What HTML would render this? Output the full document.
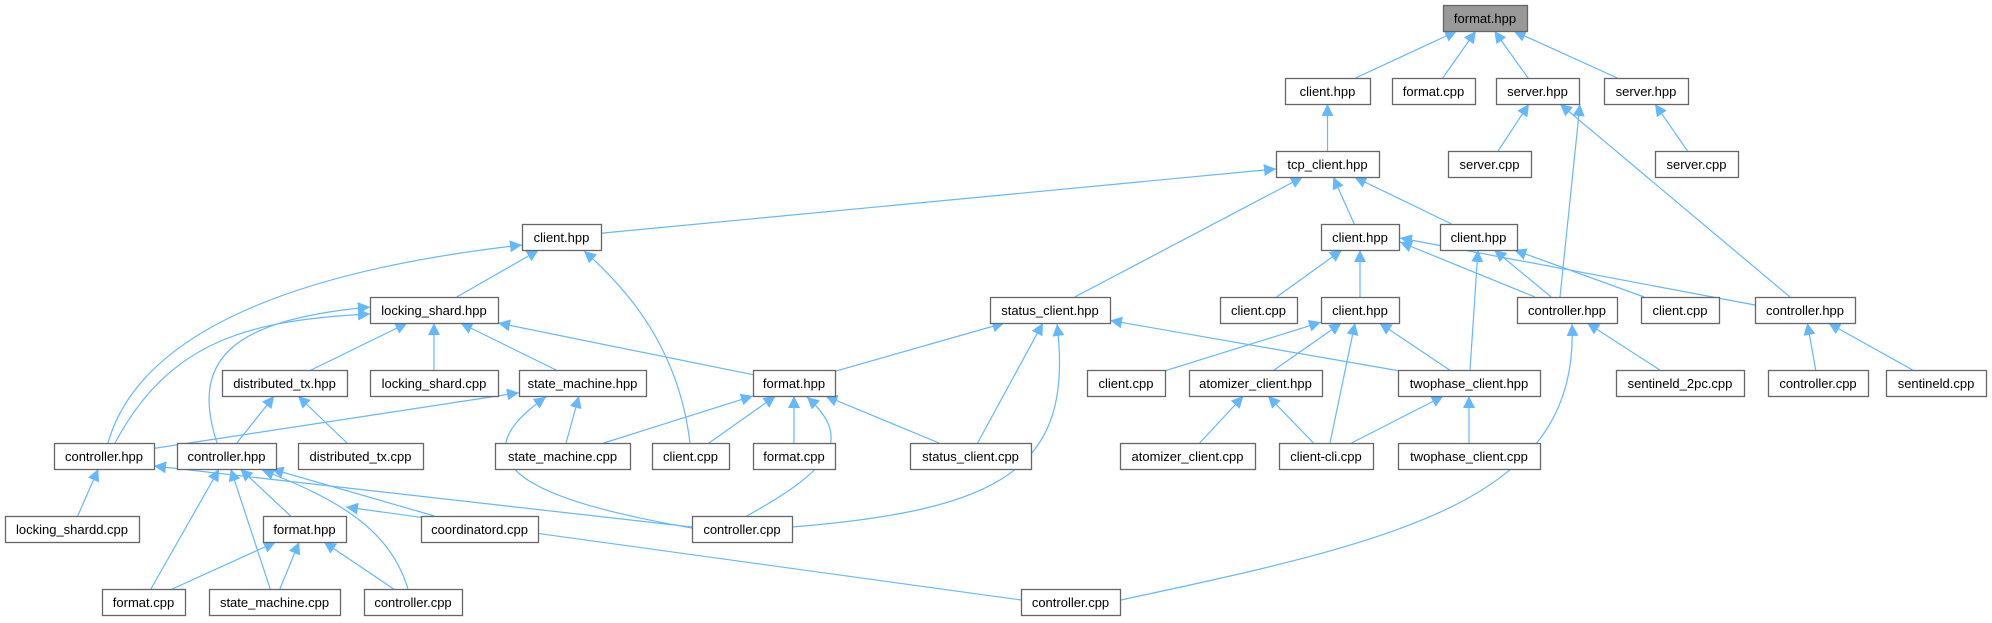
<!DOCTYPE html>
<html><head><meta charset="utf-8"><style>
html,body{margin:0;padding:0;background:#fff;}
svg{display:block;}
text{font-family:"Liberation Sans",Arial,sans-serif;font-size:13px;fill:#000;}
</style></head><body>
<svg id="g" width="1992" height="623" xmlns="http://www.w3.org/2000/svg">
<defs><marker id="a" markerUnits="userSpaceOnUse" markerWidth="14" markerHeight="12" refX="12" refY="6" orient="auto"><path d="M0,0 L12,6 L0,12 z" fill="#63b8ff"/></marker></defs>
<g id="E"></g><g id="N"></g>
</svg>
<script>
var T=function(r){return 5+73*r;},H=26;
var n={
fh:[1443,1527,0,"format.hpp",1],
c1:[1285,1370,1,"client.hpp"],fc1:[1392,1475,1,"format.cpp"],sA:[1496,1579,1,"server.hpp"],sB:[1604,1688,1,"server.hpp"],
tcp:[1276,1379,2,"tcp_client.hpp"],scA:[1448,1531,2,"server.cpp"],scB:[1655,1738,2,"server.cpp"],
cL:[522,601,3,"client.hpp"],c3a:[1321,1399,3,"client.hpp"],c3b:[1440,1517,3,"client.hpp"],
ls:[370,498,4,"locking_shard.hpp"],sch:[990,1110,4,"status_client.hpp"],cc4:[1220,1297,4,"client.cpp"],c4:[1321,1399,4,"client.hpp"],chA:[1517,1617,4,"controller.hpp"],cc4b:[1641,1719,4,"client.cpp"],chB:[1755,1855,4,"controller.hpp"],
dth:[222,347,5,"distributed_tx.hpp"],lsc:[370,498,5,"locking_shard.cpp"],smh:[519,646,5,"state_machine.hpp"],fh5:[753,835,5,"format.hpp"],cc5:[1087,1165,5,"client.cpp"],ach:[1189,1322,5,"atomizer_client.hpp"],tph:[1398,1540,5,"twophase_client.hpp"],s2:[1616,1744,5,"sentineld_2pc.cpp"],cpB:[1768,1868,5,"controller.cpp"],sd:[1886,1986,5,"sentineld.cpp"],
ch6a:[54,154,6,"controller.hpp"],ch6b:[177,276,6,"controller.hpp"],dtc:[298,423,6,"distributed_tx.cpp"],smc6:[495,630,6,"state_machine.cpp"],cc6:[652,729,6,"client.cpp"],fc6:[753,835,6,"format.cpp"],scc:[910,1031,6,"status_client.cpp"],acc:[1120,1255,6,"atomizer_client.cpp"],cli:[1279,1373,6,"client-cli.cpp"],tpc:[1398,1540,6,"twophase_client.cpp"],
lsd:[5,139,7,"locking_shardd.cpp"],fh7:[263,346,7,"format.hpp"],coo:[421,538,7,"coordinatord.cpp"],cp7:[692,792,7,"controller.cpp"],
fc8:[102,185,8,"format.cpp"],smc8:[209,340,8,"state_machine.cpp"],cp8a:[364,462,8,"controller.cpp"],cp8b:[1021,1120,8,"controller.cpp"]
};
var S="http://www.w3.org/2000/svg";
function el(t,a,p){var e=document.createElementNS(S,t);for(var k in a)e.setAttribute(k,a[k]);p.appendChild(e);return e;}
function box(id){var b=n[id];return {x1:b[0],x2:b[1],y1:T(b[2]),y2:T(b[2])+H,cx:(b[0]+b[1])/2,cy:T(b[2])+H/2};}
function clip(b,q){var dx=q[0]-b.cx,dy=q[1]-b.cy,t=1e9;
if(dx)t=Math.min(t,((dx>0?b.x2:b.x1)-b.cx)/dx);if(dy)t=Math.min(t,((dy>0?b.y2:b.y1)-b.cy)/dy);
return [b.cx+dx*t,b.cy+dy*t];}
var E=document.getElementById("E"),N=document.getElementById("N");
var st=[["c1","fh"],["fc1","fh"],["sA","fh"],["sB","fh"],["tcp","c1"],["scA","sA"],["chA","sB"],["chB","sA"],["scB","sB"],
["cL","tcp"],["sch","tcp"],["c3a","tcp"],["c3b","tcp"],["ls","cL"],["cc4","c3a"],["c4","c3a"],["chA","c3a"],["chB","c3a"],
["tph","c3b"],["chA","c3b"],["cc4b","c3b"],["dth","ls"],["lsc","ls"],["smh","ls"],["fh5","ls"],["fh5","sch"],["scc","sch"],["tph","sch"],
["cc5","c4"],["ach","c4"],["cli","c4"],["tph","c4"],["s2","chA"],["cpB","chB"],["sd","chB"],["ch6b","dth"],["dtc","dth"],["ch6a","smh"],["smc6","smh"],
["smc6","fh5"],["cc6","fh5"],["fc6","fh5"],["scc","fh5"],["acc","ach"],["cli","ach"],["cli","tph"],["tpc","tph"],["lsd","ch6a"],["cp7","ch6a"],
["fc8","ch6b"],["smc8","ch6b"],["fh7","ch6b"],["coo","ch6b"],["fc8","fh7"],["smc8","fh7"],["cp8a","fh7"],["cp8b","fh7"]];
var ov={"chA-sB":[[1560,T(4)],[1580,T(1)+H]],"chB-sA":[[1790,T(4)],[1560,T(1)+H]],"cp7-ch6a":[[692,527],[154,466]],"cp8b-fh7":[[1021,600],[346,507]],"chA-c3a":[[1535,T(4)],[1400,T(3)+18]],"chB-c3a":[[1755,T(4)+8],[1400,T(3)+14]],"tph-c3b":[[1470,T(5)],[1478,T(3)+H]],"cli-c4":[[1330,T(6)],[1355,T(4)+H]]};
st.forEach(function(e){var a=box(e[0]),b=box(e[1]),k=e[0]+"-"+e[1],p,q;
if(ov[k]){p=ov[k][0];q=ov[k][1];}else{p=clip(a,[b.cx,b.cy]);q=clip(b,[a.cx,a.cy]);}
el("path",{d:"M"+p[0]+","+p[1]+" L"+q[0]+","+q[1],stroke:"#63b8ff","stroke-width":"1.2",fill:"none","marker-end":"url(#a)"},E);});
var cv=["M108,443 C140,330 300,270 522,245","M690,443 C680,360 640,300 584,251","M115,443 C170,340 250,320 370,314","M217,443 C190,360 230,320 370,307",
"M792,527 C1000,510 1075,470 1057,324","M1121,600 C1400,540 1580,500 1572,324","M692,528 C560,505 440,470 546,397","M745,517 C830,470 855,440 807,397","M408,589 C390,530 340,500 262,470"];
cv.forEach(function(d){el("path",{d:d,stroke:"#63b8ff","stroke-width":"1.2",fill:"none","marker-end":"url(#a)"},E);});
for(var id in n){var b=box(id);el("rect",{x:b.x1+.5,y:b.y1+.5,width:b.x2-b.x1,height:H,fill:n[id][4]?"#999":"#fff",stroke:"#666","stroke-width":"1.3"},N);
var t=el("text",{x:b.cx,y:b.y1+18,"text-anchor":"middle"},N);t.textContent=n[id][3];}
</script>
</body></html>
